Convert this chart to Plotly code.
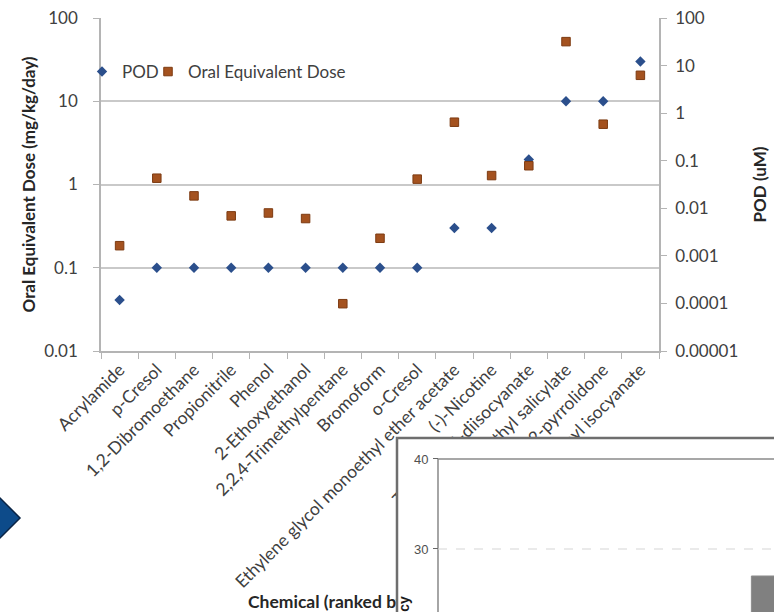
import plotly.graph_objects as go

W, H = 774, 612


def px(x):
    return x / W


def py(y):
    return 1 - y / H


# ---------------- data ----------------
chemicals = [
    "Acrylamide", "p-Cresol", "1,2-Dibromoethane", "Propionitrile", "Phenol",
    "2-Ethoxyethanol", "2,2,4-Trimethylpentane", "Bromoform", "o-Cresol",
    "Ethylene glycol monoethyl ether acetate", "(-)-Nicotine",
    "Toluene 2,4-diisocyanate", "Methyl salicylate", "N-Methyl-2-pyrrolidone",
    "Methyl isocyanate",
]
pod = [0.041, 0.1, 0.1, 0.1, 0.1, 0.1, 0.1, 0.1, 0.1, 0.3, 0.3, 2, 10, 10, 30]
oral_dose = [0.184, 1.19, 0.73, 0.42, 0.455, 0.39, 0.037, 0.226, 1.16, 5.6,
             1.28, 1.68, 52, 5.3, 20.5]

left_tickvals = [0.01, 0.1, 1, 10, 100]
left_ticktext = ["0.01", "0.1", "1", "10", "100"]
right_tickvals = [1e-5, 1e-4, 1e-3, 1e-2, 1e-1, 1, 10, 100]
right_ticktext = ["0.00001", "0.0001", "0.001", "0.01", "0.1", "1", "10", "100"]

inset_bins = [9.9]
inset_counts = [27]
inset_tickvals = [30, 40]

x_title = "Chemical (ranked by POD)"
inset_y_title = "Frequency"

FONT = "Lato"
TXT = "#404040"
TITLE = "#262626"
AX = "#b4b4b4"

main_x = [px(101), px(659)]
main_y = [py(351), py(18)]
inset_x = [px(397), 1.0]
inset_y = [0.0, py(438)]
# tiny holder subplot for the main x-axis title (sits beneath the inset)
title_dom_x = [px(247), px(249)]
title_dom_y = [py(606), py(602)]

fig = go.Figure()

fig.add_trace(go.Scatter(
    x=chemicals, y=pod, mode="markers", name="POD",
    marker=dict(symbol="diamond", size=8, color="#2b4f8c"),
    xaxis="x", yaxis="y", legend="legend",
))
fig.add_trace(go.Scatter(
    x=chemicals, y=oral_dose, mode="markers", name="Oral Equivalent Dose",
    marker=dict(symbol="square", size=8.5, color="#a4521f",
                line=dict(color="#7d3b12", width=1)),
    xaxis="x", yaxis="y", legend="legend2",
))
# right-hand axis (POD uM)
fig.add_trace(go.Scatter(x=[], y=[], xaxis="x", yaxis="y2", showlegend=False,
                         hoverinfo="skip"))
# placeholder subplot so the inset gets its own opaque background
fig.add_trace(go.Scatter(x=[], y=[], xaxis="x3", yaxis="y3", showlegend=False,
                         hoverinfo="skip"))
# main x-axis title (drawn below the inset in stacking order)
fig.add_trace(go.Scatter(
    x=[0], y=[0], mode="text", text=[x_title],
    textposition="middle right", cliponaxis=False,
    textfont=dict(family=FONT, size=17.5, color=TITLE, weight="bold"),
    xaxis="x4", yaxis="y4", showlegend=False, hoverinfo="skip",
))
# inset histogram
fig.add_trace(go.Bar(
    x=inset_bins, y=inset_counts, width=1.0, xaxis="x5", yaxis="y5",
    marker=dict(color="#808080", line=dict(color="#8c8c8c", width=1)),
    showlegend=False,
))

tickfont = dict(family=FONT, size=17, color=TXT)
catfont = dict(family=FONT, size=17.5, color=TXT)
titlefont = dict(family=FONT, size=17, color=TITLE, weight="bold")
legend_common = dict(
    orientation="h", yanchor="middle", xanchor="left",
    bgcolor="rgba(0,0,0,0)", borderwidth=0,
    font=dict(family=FONT, size=17, color=TXT),
)

fig.update_layout(
    template="none",
    width=W, height=H, autosize=False,
    margin=dict(l=0, r=0, t=0, b=0, autoexpand=False),
    paper_bgcolor="white", plot_bgcolor="white",
    showlegend=True,
    legend=dict(x=px(82), y=py(72), **legend_common),
    legend2=dict(x=px(148), y=py(72), **legend_common),
    xaxis=dict(
        domain=main_x, anchor="y", type="category", range=[-0.5, 14.5],
        automargin=False,
        tickangle=-45, tickfont=catfont, ticks="outside", ticklen=6,
        tickson="boundaries", tickcolor=AX, showline=True, linecolor=AX,
        linewidth=1.5, showgrid=False, zeroline=False,
    ),
    yaxis=dict(
        domain=main_y, anchor="x", type="log", range=[-2, 2],
        automargin=False,
        tickvals=left_tickvals, ticktext=left_ticktext, tickfont=tickfont,
        ticks="outside", ticklen=6, tickcolor=AX, ticklabelstandoff=12,
        showline=True, linecolor=AX, linewidth=1.5,
        showgrid=True, gridcolor="#c9c9c9", gridwidth=1.6, zeroline=False,
        title=dict(text="Oral Equivalent Dose (mg/kg/day)", standoff=4,
                   font=titlefont),
    ),
    yaxis2=dict(
        overlaying="y", side="right", anchor="x", type="log", range=[-5, 2],
        automargin=False,
        tickvals=right_tickvals, ticktext=right_ticktext, tickfont=tickfont,
        ticks="outside", ticklen=6, tickcolor=AX, ticklabelstandoff=5,
        showline=True, linecolor=AX, linewidth=1.5, showgrid=False,
        zeroline=False,
        title=dict(text="POD (uM)", standoff=17, font=titlefont),
    ),
    xaxis3=dict(domain=inset_x, anchor="y3", visible=False),
    yaxis3=dict(domain=inset_y, anchor="x3", visible=False),
    xaxis4=dict(domain=title_dom_x, anchor="y4", range=[-1, 1],
                visible=False),
    yaxis4=dict(domain=title_dom_y, anchor="x4", range=[-1, 1],
                visible=False),
    xaxis5=dict(domain=inset_x, anchor="y5", range=[0, 10], visible=False),
    yaxis5=dict(
        domain=inset_y, anchor="free", position=px(438), range=[23, 42.33],
        automargin=False,
        tickvals=inset_tickvals, ticks="outside", ticklen=5,
        tickcolor="#666666", tickwidth=1.2, showline=False, showgrid=False,
        zeroline=False, ticklabelstandoff=2,
        tickfont=dict(family="Liberation Sans", size=13, color="#505050"),
    ),
    annotations=[dict(
        text=inset_y_title, xref="paper", yref="paper", x=px(404), y=py(632),
        textangle=-90, showarrow=False, xanchor="center", yanchor="middle",
        font=dict(family="Liberation Sans", size=14, color="#1a1a1a",
                  weight="bold"),
    )],
)

shapes = [
    # inset frame
    dict(type="rect", xref="paper", yref="paper", x0=px(397), x1=px(800),
         y0=py(660), y1=py(438), line=dict(color="#6e6e6e", width=2.5),
         fillcolor="rgba(0,0,0,0)", layer="above"),
    # inset y-axis line
    dict(type="line", xref="paper", yref="y5", x0=px(438), x1=px(438),
         y0=inset_tickvals[-1], y1=23, line=dict(color="#6a6a6a", width=1.2),
         layer="above"),
    # inset top line
    dict(type="line", xref="paper", yref="y5", x0=px(438), x1=1,
         y0=inset_tickvals[-1], y1=inset_tickvals[-1],
         line=dict(color="#8a8a8a", width=1.5), layer="above"),
    # inset dashed gridline
    dict(type="line", xref="paper", yref="y5", x0=px(438), x1=1,
         y0=inset_tickvals[0], y1=inset_tickvals[0],
         line=dict(color="#d6d6d6", width=1.2, dash="dash"), layer="above"),
    # blue chevron tip at left
    dict(type="path", xref="paper", yref="paper",
         path=(f"M {px(-25)},{py(473)} L {px(20)},{py(518)} "
               f"L {px(-25)},{py(563)} Z"),
         fillcolor="#0d4b8a", line=dict(color="#0a2445", width=1.5),
         layer="above"),
]
fig.update_layout(shapes=shapes)

fig.write_html("out.html")
